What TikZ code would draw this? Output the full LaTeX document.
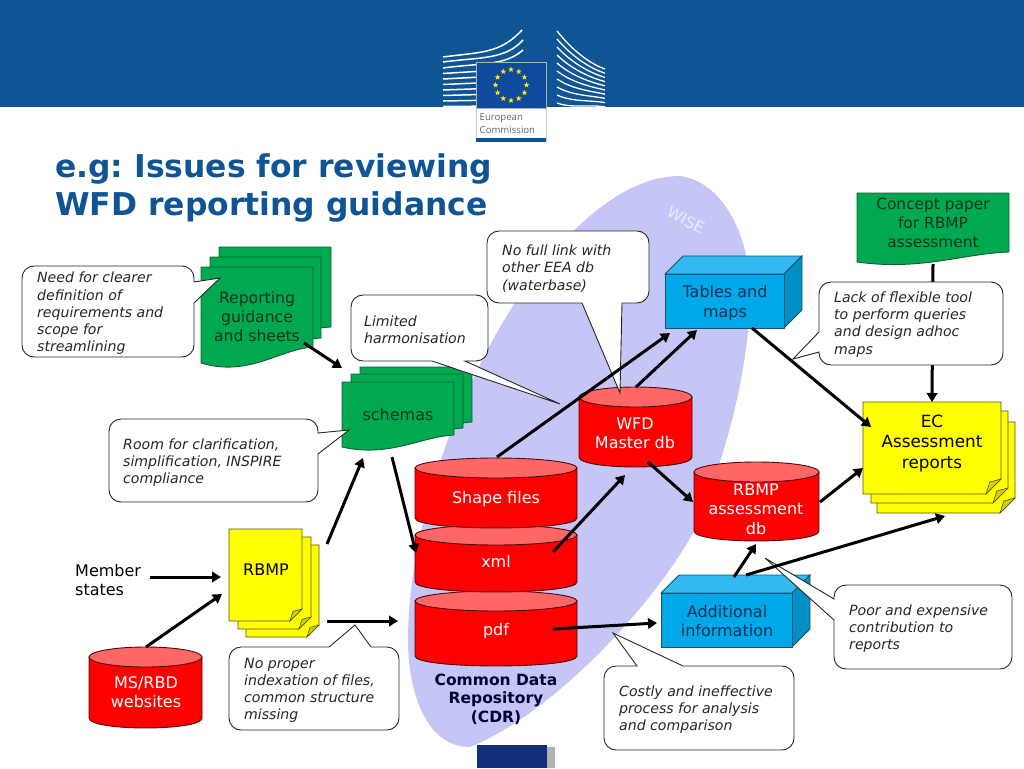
\documentclass[tikz,border=0pt]{standalone}
\usepackage{fontspec}
\setmainfont{DejaVu Sans}
\newfontfamily\logofont{Open Sans}
\usepackage{tikz}
\usetikzlibrary{positioning, shapes.geometric, arrows.meta}

\definecolor{ecblue}{HTML}{0F5494}
\definecolor{flagblue}{HTML}{0E4A9E}
\definecolor{footblue}{HTML}{12307A}
\definecolor{blobblue}{HTML}{C6C6F6}
\definecolor{pagegreen}{HTML}{00A94F}
\definecolor{pageline}{HTML}{0D5F35}
\definecolor{greentext}{HTML}{04331F}
\definecolor{dbred}{HTML}{FF0000}
\definecolor{dblight}{HTML}{FF6666}
\definecolor{dbline}{HTML}{4A0A10}
\definecolor{boxfront}{HTML}{00A8E8}
\definecolor{boxtop}{HTML}{33B8F0}
\definecolor{boxside}{HTML}{0090C4}
\definecolor{boxline}{HTML}{0C5578}
\definecolor{boxtext}{HTML}{07305A}
\definecolor{noteyellow}{HTML}{FFFF00}
\definecolor{notefold}{HTML}{CFCF10}
\definecolor{noteline}{HTML}{55550A}

% paper with a wavy lower edge: x1, y1, x2, y at right end, y at left end
\newcommand{\wavepage}[5]{
  \draw[greenpage] (#1,#2) -- (#3,#2) -- (#3,#4)
    .. controls ({#3-0.3*(#3-#1)},#4+0.15*#5-0.15*#4) and ({#1+0.42*(#3-#1)},#5+0.9*#5-0.9*#4) .. (#1,#5) -- cycle;
}
% sheet with a folded corner: x1, y1, x2, y2, fold
\newcommand{\foldpage}[5]{
  \draw[yellowpage] (#1,#2) -- (#3,#2) -- (#3,#4-#5) -- (#3-#5,#4) -- (#1,#4) -- cycle;
  \draw[foldcorner] (#3,#4-#5) -- (#3-#5,#4) -- (#3-0.75*#5,#4-0.8*#5) -- cycle;
}
% drum: x1, x2, y of top ellipse, y of side end, y radius
\newcommand{\dbdrum}[5]{
  \draw[drumbody] (#1,#3) -- (#1,#4) .. controls (#1,#4+1.33*#5) and (#2,#4+1.33*#5) .. (#2,#4) -- (#2,#3) -- cycle;
  \draw[drumtop] ({(#1+#2)/2},#3) ellipse [x radius={(#2-#1)/2}, y radius=#5];
}
% block: front x1, y1, x2, y2, depth
\newcommand{\blockbox}[5]{
  \draw[blocktop] (#1,#2) -- (#1+#5,#2-#5) -- (#3+#5,#2-#5) -- (#3,#2) -- cycle;
  \draw[blockside] (#3,#2) -- (#3+#5,#2-#5) -- (#3+#5,#4-#5) -- (#3,#4) -- cycle;
  \draw[blockfront] (#1,#2) rectangle (#3,#4);
}

\begin{document}
\frenchspacing
\begin{tikzpicture}[
                x=1pt, y=-1pt,
                greenpage/.style={draw=pageline, line width=0.9pt, fill=pagegreen},
                yellowpage/.style={draw=noteline, line width=0.9pt, fill=noteyellow},
                foldcorner/.style={draw=noteline, line width=0.6pt, fill=notefold},
                drumbody/.style={draw=dbline, line width=0.9pt, fill=dbred},
                drumtop/.style={draw=dbline, line width=0.9pt, fill=dblight},
                blocktop/.style={draw=boxline, line width=0.9pt, fill=boxtop},
                blockside/.style={draw=boxline, line width=0.9pt, fill=boxside},
                blockfront/.style={draw=boxline, line width=0.9pt, fill=boxfront},
                varlabel/.style={align=center, inner sep=0pt, font=\fontsize{16}{19.4}\selectfont},
                greenlabel/.style={varlabel, text=greentext},
                redlabel/.style={varlabel, text=white},
                bluelabel/.style={varlabel, text=boxtext},
                notetext/.style={align=left, anchor=west, inner sep=0pt, font=\fontsize{14.1}{17.2}\selectfont\itshape, text=black!85},
                callout/.style={draw=black!85, line width=0.9pt, fill=white},
                edge/.style={black, line width=3pt, -{Triangle[length=9pt, width=10.5pt]}},
                bldg/.style={white, line width=1.5pt},
                eustar/.style={star, star points=5, star point ratio=2.4, fill=yellow!90!orange, minimum size=6pt, inner sep=0pt}
            ]
            \useasboundingbox (0,0) rectangle (1024,768);

            % Header
            \fill[ecblue] (0,0) rectangle (1024,107);
            \foreach \i in {3,...,9}
                \draw[bldg] (443,57+\i*5.5) -- (477,54+\i*5.8);
            \draw[bldg] (443,57) .. controls (480,52) and (500,54) .. (522,30);
            \draw[bldg] (443,62) .. controls (480,57) and (505,60) .. (523,40);
            \draw[bldg] (443,68) .. controls (480,63) and (505,66) .. (523,50);
            \foreach \i in {0,...,9}
                \draw[bldg, line width=1.3pt] (557,31+\i*8) .. controls (572,50+\i*6.5) and (590,64+\i*4.5) .. (605,69+\i*4.2);
            \draw[draw=black!20, fill=white] (476,108) rectangle (546,141);
            \fill[ecblue] (476,137.5) rectangle (546,141.5);
            \draw[draw=black!30, fill=flagblue] (476,62) rectangle (546,108);
            \foreach \k in {0,...,11}
                \node[eustar] (S\k) at ({511+15.5*cos(30*\k)},{85+15.5*sin(30*\k)}) {};
            \node[align=left, anchor=west, inner sep=0pt, text=black!60, font=\logofont\fontsize{9.6}{12.4}\selectfont] (L1) at (479.5,123.5) {European\\Commission};

            % Title
            \node[align=left, anchor=north west, inner sep=0pt, text=ecblue, font=\bfseries\fontsize{31.4}{38}\selectfont] (H1) at (55,153) {e.g: Issues for reviewing\\WFD reporting guidance};

            % WISE area
            \fill[blobblue] (680,176) .. controls (725,182) and (750,240) .. (750,290)
                .. controls (750,370) and (725,460) .. (693,533)
                .. controls (650,610) and (550,715) .. (470,747)
                .. controls (425,747) and (408,690) .. (408,640)
                .. controls (408,540) and (450,400) .. (520,295)
                .. controls (570,225) and (625,176) .. (680,176) -- cycle;
            \node[rotate=-28, text=white!92!blue, inner sep=0pt, font=\fontsize{15.5}{18}\selectfont] (W1) at (686,220) {WISE};
            \fill[footblue] (477,745) rectangle (547,768);
            \fill[black!30] (547,747) rectangle (555,768);

            % Shapes
            \wavepage{219}{247}{331}{327}{338}
            \wavepage{210}{257}{321}{338}{350}
            \wavepage{201}{267}{313}{347}{363}
            \wavepage{360}{367}{472}{422}{434}
            \wavepage{351}{374}{463}{428}{440}
            \wavepage{342}{382}{454}{435}{447}
            \wavepage{857}{193}{1009}{252}{262}
            \foldpage{246}{545}{319}{637}{12}
            \foldpage{238}{537}{311}{629}{12}
            \foldpage{229}{529}{302}{621}{12}
            \foldpage{877}{422}{1015}{513}{15}
            \foldpage{871}{411}{1008}{503}{15}
            \foldpage{863}{402}{1001}{494}{15}
            \dbdrum{415}{577}{601}{656}{10}
            \dbdrum{415}{577}{535}{582}{10}
            \dbdrum{415}{577}{468}{518}{10}
            \dbdrum{579}{692}{397}{457}{10}
            \dbdrum{694}{819}{472}{531}{10}
            \dbdrum{89}{202}{657}{718}{10}
            \blockbox{665}{274}{784}{328}{18}
            \blockbox{661}{593}{792}{647}{18}

            % Knoten
            \node[greenlabel, font=\fontsize{15.6}{19.2}\selectfont] (G1) at (257,316.5) {Reporting\\guidance\\and sheets};
            \node[greenlabel] (G2) at (398,415) {schemas};
            \node[greenlabel, font=\fontsize{15.4}{19}\selectfont] (G3) at (933,223) {Concept paper\\for RBMP\\assessment};
            \node[varlabel] (Y1) at (266,570) {RBMP};
            \node[varlabel, font=\fontsize{16.8}{20.5}\selectfont] (Y2) at (932,443.5) {EC\\Assessment\\reports};
            \node[redlabel] (C1) at (496,499.5) {Shape files};
            \node[redlabel] (C2) at (496,561) {xml};
            \node[redlabel] (C3) at (496,631) {pdf};
            \node[redlabel] (C4) at (635,433) {WFD\\Master db};
            \node[redlabel] (C5) at (756,509) {RBMP\\assessment\\db};
            \node[redlabel] (C6) at (146,692) {MS/RBD\\websites};
            \node[bluelabel] (B1) at (725,303) {Tables and\\maps};
            \node[bluelabel] (B2) at (727,621) {Additional\\information};
            \node[varlabel, align=left, anchor=west] (T1) at (75,580) {Member\\states};
            \node[varlabel, text=black!80!blue, font=\bfseries\fontsize{15.5}{18.6}\selectfont] (T2) at (496,699) {Common Data\\Repository\\(CDR)};
            \coordinate (X1) at (398,621);

            % Kante behind note
            \draw[edge] ([shift={(0,41)}]G3.center) -- ([shift={(0,-41.5)}]Y2.center);

            % Notes
            \draw[callout] (194,303) [rounded corners=12pt] -- (194,357) -- (22,357) -- (22,266) -- (194,266) [sharp corners] -- (194,282) -- (220,278) -- cycle;
            \draw[callout] (465,361) [rounded corners=12pt] -- (488,361) -- (488,295) -- (351,295) -- (351,361) [sharp corners] -- (432,361) -- (560,404) -- cycle;
            \draw[callout] (318,454) [rounded corners=12pt] -- (318,502) -- (109,502) -- (109,419) -- (318,419) [sharp corners] -- (318,433) -- (349,430) -- cycle;
            \draw[callout] (622,303) [rounded corners=12pt] -- (649,303) -- (649,231) -- (487,231) -- (487,303) [sharp corners] -- (582,303) -- (620,393) -- cycle;
            \draw[callout] (819,352) [rounded corners=12pt] -- (819,365) -- (1003,365) -- (1003,282) -- (819,282) [sharp corners] -- (819,332) -- (793,359) -- cycle;
            \draw[callout] (834,620) [rounded corners=12pt] -- (834,669) -- (1012,669) -- (1012,585) -- (834,585) [sharp corners] -- (834,599) -- (765,558) -- cycle;
            \draw[callout] (683,666) [rounded corners=12pt] -- (794,666) -- (794,750) -- (604,750) -- (604,666) [sharp corners] -- (637,666) -- (613,633) -- cycle;
            \draw[callout] (371,647) [rounded corners=12pt] -- (399,647) -- (399,730) -- (229,730) -- (229,647) [sharp corners] -- (329,647) -- (355,625) -- cycle;
            \node[notetext] (N1) at (37,313.5) {Need for clearer\\definition of\\requirements and\\scope for\\streamlining};
            \node[notetext] (N2) at (364,329.5) {Limited\\harmonisation};
            \node[notetext] (N3) at (123,462.5) {Room for clarification,\\simplification, INSPIRE\\compliance};
            \node[notetext] (N4) at (502,268.5) {No full link with\\other EEA db\\(waterbase)};
            \node[notetext] (N5) at (834,324.5) {Lack of flexible tool\\to perform queries\\and design adhoc\\maps};
            \node[notetext] (N6) at (849,628.5) {Poor and expensive\\contribution to\\reports};
            \node[notetext] (N7) at (619,709.5) {Costly and ineffective\\process for analysis\\and comparison};
            \node[notetext] (N8) at (244,690.5) {No proper\\indexation of files,\\common structure\\missing};

            % Kanten
            \draw[edge] ([shift={(47,26.5)}]G1.center) -- ([shift={(-56,-47)}]G2.center);
            \draw[edge] ([shift={(42,-3)}]T1.center) -- ([shift={(-45,7)}]Y1.center);
            \draw[edge] ([shift={(0,-45)}]C6.center) -- ([shift={(-44,24)}]Y1.center);
            \draw[edge] ([shift={(61,-26)}]Y1.center) -- ([shift={(-35,43)}]G2.center);
            \draw[edge] ([shift={(-6,42)}]G2.center) -- ([shift={(-80,-8)}]C2.center);
            \draw[edge] ([shift={(61,51)}]Y1.center) -- (X1);
            \draw[edge] ([shift={(57,-2)}]C3.center) -- ([shift={(-70,2)}]B2.center);
            \draw[edge] ([shift={(57,-9)}]C2.center) -- ([shift={(-10,42)}]C4.center);
            \draw[edge] ([shift={(1,-42.5)}]C1.center) -- ([shift={(-55,30)}]B1.center);
            \draw[edge] ([shift={(1,-46)}]C4.center) -- ([shift={(-28,27)}]B1.center);
            \draw[edge] ([shift={(13,29)}]C4.center) -- ([shift={(-63,-7)}]C5.center);
            \draw[edge] ([shift={(27,25)}]B1.center) -- ([shift={(-61,-16.5)}]Y2.center);
            \draw[edge] ([shift={(64,-7)}]C5.center) -- ([shift={(-69,24.5)}]Y2.center);
            \draw[edge] ([shift={(7,-44)}]B2.center) -- ([shift={(0,35)}]C5.center);
            \draw[edge] ([shift={(19,-46)}]B2.center) -- ([shift={(13,72.5)}]Y2.center);

        \end{tikzpicture}
\end{document}
